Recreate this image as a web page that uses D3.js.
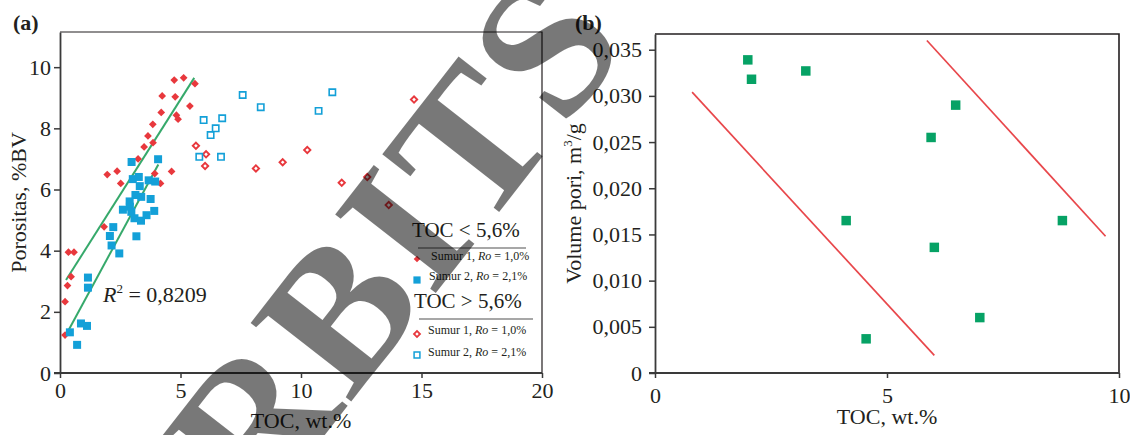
<!DOCTYPE html>
<html>
<head>
<meta charset="utf-8">
<script src="https://cdn.jsdelivr.net/npm/d3@7"></script>
<style>
  html, body { margin: 0; padding: 0; background: #fff; }
  svg { display: block; }
  text { font-family: "Liberation Serif", "Times New Roman", serif; fill: #231f20; }
</style>
</head>
<body>
<svg id="chart" width="1130" height="435"></svg>
<script>
// ---- Panel (a): porosity vs TOC ----
// Sumur 1 (Ro = 1,0%), TOC < 5,6%  [TOC wt.%, porosity %BV]
const sumur1Low = [
  [0.21, 1.24], [0.21, 2.33], [0.31, 2.86], [0.46, 3.15], [0.35, 3.95], [0.58, 3.95],
  [1.83, 4.78], [1.96, 6.49], [2.37, 6.60], [2.52, 6.20], [3.24, 7.00], [3.49, 7.39],
  [3.65, 7.75], [3.85, 8.13], [3.86, 7.53], [3.93, 6.52], [4.17, 6.20], [4.20, 8.52],
  [4.24, 9.06], [4.63, 6.59], [4.74, 9.58], [4.78, 9.03], [4.83, 8.43], [4.90, 8.30],
  [5.13, 9.65], [5.39, 8.73], [5.60, 9.46]
];
// Sumur 2 (Ro = 2,1%), TOC < 5,6%
const sumur2Low = [
  [0.41, 1.33], [0.71, 0.92], [0.87, 1.62], [1.12, 1.54], [1.16, 3.12], [1.16, 2.79],
  [2.07, 4.48], [2.14, 4.17], [2.21, 4.77], [2.46, 3.91], [2.61, 5.34], [2.89, 5.61],
  [2.90, 5.44], [2.96, 5.27], [3.09, 5.06], [3.17, 4.47], [3.36, 4.98], [3.59, 5.16],
  [3.76, 5.69], [3.91, 5.30], [3.13, 5.82], [3.37, 5.76], [2.97, 6.90], [3.02, 6.34],
  [3.27, 6.41], [3.31, 6.11], [3.68, 6.30], [3.95, 6.26], [4.07, 6.99]
];
// Sumur 1, TOC > 5,6%
const sumur1High = [
  [5.64, 7.43], [6.06, 7.15], [6.02, 6.77], [8.13, 6.69], [9.24, 6.89],
  [10.26, 7.29], [11.69, 6.22], [12.75, 6.41], [13.64, 5.49], [14.69, 8.94]
];
// Sumur 2, TOC > 5,6%
const sumur2High = [
  [5.96, 8.27], [5.78, 7.07], [6.25, 7.78], [6.46, 8.00], [6.73, 8.33],
  [6.68, 7.07], [7.58, 9.09], [8.33, 8.69], [11.30, 9.18], [10.73, 8.57]
];
// Linear trend lines for the TOC < 5,6% groups (end points)
const trendSumur1 = [[0.25, 3.04], [5.57, 9.65]];
const trendSumur2 = [[0.32, 1.35], [4.08, 6.82]];
const r2Label = "0,8209";
const ticksA_x = [0, 5, 10, 15, 20];
const ticksA_y = [0, 2, 4, 6, 8, 10];

// ---- Panel (b): pore volume vs TOC ----
const poreToc = [2.00, 2.08, 3.25, 4.12, 6.48, 5.95, 8.78, 6.02, 7.00, 4.55];
const poreVolume = [0.0339, 0.0318, 0.0327, 0.0165, 0.0290, 0.0255, 0.0165, 0.0136, 0.0060, 0.0037];
const boundLower = [[0.80, 0.0304], [6.02, 0.0019]];
const boundUpper = [[5.86, 0.0360], [9.71, 0.0148]];
const ticksB_x = [0, 5, 10];
const ticksB_y = [0, 0.005, 0.010, 0.015, 0.020, 0.025, 0.030, 0.035];

const watermarkText = "RBITS";

const svg = d3.select("#chart");
const FS = 22;
const red = "#e8383d", blue = "#13a0d8", green = "#36a96b", poreGreen = "#06a265", lineRed = "#e8474b";

// ============ Panel (a) ============
const xA = d3.scaleLinear().domain([0, 20]).range([60, 542]);
const yA = d3.scaleLinear().domain([0, 11.15]).range([373, 32]);
const gA = svg.append("g");

// frame (top & right)
gA.append("path")
  .attr("d", `M${xA(0)},${yA(11.15)}H${xA(20)}V${yA(0)}`)
  .attr("fill", "none").attr("stroke", "#231f20").attr("stroke-width", 1.2);

const axAx = gA.append("g").attr("transform", `translate(0,${yA(0)})`)
  .call(d3.axisBottom(xA).tickValues(ticksA_x).tickFormat(d3.format("d")).tickSize(5).tickSizeOuter(0).tickPadding(4));
const axAy = gA.append("g").attr("transform", `translate(${xA(0)},0)`)
  .call(d3.axisLeft(yA).tickValues(ticksA_y).tickFormat(d3.format("d")).tickSize(6).tickSizeOuter(0).tickPadding(3));
[axAx, axAy].forEach(a => {
  a.select(".domain").attr("stroke", "#3a3a3a").attr("stroke-width", 1.8);
  a.selectAll(".tick line").attr("stroke", "#3a3a3a").attr("stroke-width", 1.5);
  a.selectAll(".tick text").attr("font-size", FS).attr("font-family", "Liberation Serif").attr("fill", "#231f20");
});
// extend the x axis line slightly past the y axis
axAx.select(".domain").attr("d", `M${xA(0) - 6},0H${xA(20)}`);

// trend lines
const lineA = d3.line().x(d => xA(d[0])).y(d => yA(d[1]));
[trendSumur1, trendSumur2].forEach(t => {
  gA.append("path").attr("d", lineA(t)).attr("fill", "none").attr("stroke", green).attr("stroke-width", 2);
});

const sq = d3.symbol().type(d3.symbolSquare);
// filled red diamonds
gA.selectAll(".s1l").data(sumur1Low).join("path")
  .attr("d", sq.size(30)())
  .attr("transform", d => `translate(${xA(d[0])},${yA(d[1])}) rotate(45)`)
  .attr("fill", red);
// filled blue squares
gA.selectAll(".s2l").data(sumur2Low).join("path")
  .attr("d", sq.size(64)())
  .attr("transform", d => `translate(${xA(d[0])},${yA(d[1])})`)
  .attr("fill", blue);
// open red diamonds
gA.selectAll(".s1h").data(sumur1High).join("path")
  .attr("d", sq.size(20)())
  .attr("transform", d => `translate(${xA(d[0])},${yA(d[1])}) rotate(45)`)
  .attr("fill", "#fff").attr("stroke", red).attr("stroke-width", 1.9);
// open blue squares
gA.selectAll(".s2h").data(sumur2High).join("path")
  .attr("d", sq.size(40)())
  .attr("transform", d => `translate(${xA(d[0])},${yA(d[1])})`)
  .attr("fill", "#fff").attr("stroke", blue).attr("stroke-width", 1.6);

// R² annotation
const r2 = gA.append("text").attr("x", 103).attr("y", 302).attr("font-size", FS);
r2.append("tspan").attr("font-style", "italic").text("R");
r2.append("tspan").attr("font-size", 13).attr("dy", -9).text("2");
r2.append("tspan").attr("dy", 9).text(" = " + r2Label);

// legend
const legA = gA.append("g");
function legendTitle(y, txt, x, lx1, lx2) {
  legA.append("text").attr("x", x).attr("y", y).attr("font-size", 21).text(txt);
  legA.append("line").attr("x1", lx1).attr("x2", lx2).attr("y1", y + 11).attr("y2", y + 11)
    .attr("stroke", "#8a8a8a").attr("stroke-width", 1.6);
}
function legendRow(y, x, label) {
  const t = legA.append("text").attr("x", x).attr("y", y).attr("font-size", 12);
  t.append("tspan").text(label + ", ");
  t.append("tspan").attr("font-style", "italic").text("Ro");
  t.append("tspan").text(label === "Sumur 1" ? " = 1,0%" : " = 2,1%");
}
legendTitle(237, "TOC < 5,6%", 412, 418, 526);
legendRow(260, 431, "Sumur 1");
legendRow(280, 429, "Sumur 2");
legendTitle(308, "TOC > 5,6%", 414, 419, 533);
legendRow(334, 428, "Sumur 1");
legendRow(356, 428, "Sumur 2");
legA.append("path").attr("d", sq.size(22)()).attr("transform", "translate(417,259) rotate(45)").attr("fill", red);
legA.append("path").attr("d", sq.size(52)()).attr("transform", "translate(417,280)").attr("fill", blue);
legA.append("path").attr("d", sq.size(18)()).attr("transform", "translate(417,334) rotate(45)")
  .attr("fill", "#fff").attr("stroke", red).attr("stroke-width", 1.8);
legA.append("path").attr("d", sq.size(34)()).attr("transform", "translate(417,355)")
  .attr("fill", "#fff").attr("stroke", blue).attr("stroke-width", 1.5);

// axis titles
gA.append("text").attr("x", (xA(0) + xA(20)) / 2).attr("y", 428).attr("text-anchor", "middle")
  .attr("font-size", FS).text("TOC, wt.%");
gA.append("text").attr("transform", `translate(26,${(yA(0) + yA(11.15)) / 2}) rotate(-90)`)
  .attr("text-anchor", "middle").attr("font-size", FS).text("Porositas, %BV");
gA.append("text").attr("x", 13).attr("y", 30).attr("font-size", 22).attr("font-weight", "bold").text("(a)");

// ============ Panel (b) ============
const xB = d3.scaleLinear().domain([0, 10]).range([655, 1119]);
const yB = d3.scaleLinear().domain([0, 0.0367]).range([373, 34]);
const gB = svg.append("g");
gB.append("path")
  .attr("d", `M${xB(0)},${yB(0.0367)}H${xB(10)}V${yB(0)}`)
  .attr("fill", "none").attr("stroke", "#231f20").attr("stroke-width", 1.6);

const comma = v => v === 0 ? "0" : d3.format(".3f")(v).replace(".", ",");
const axBx = gB.append("g").attr("transform", `translate(0,${yB(0)})`)
  .call(d3.axisBottom(xB).tickValues(ticksB_x).tickFormat(d3.format("d")).tickSize(5).tickSizeOuter(0).tickPadding(9));
const axBy = gB.append("g").attr("transform", `translate(${xB(0)},0)`)
  .call(d3.axisLeft(yB).tickValues(ticksB_y).tickFormat(comma).tickSize(6).tickSizeOuter(0).tickPadding(7));
[axBx, axBy].forEach(a => {
  a.select(".domain").attr("stroke", "#3a3a3a").attr("stroke-width", 1.8);
  a.selectAll(".tick line").attr("stroke", "#3a3a3a").attr("stroke-width", 1.5);
  a.selectAll(".tick text").attr("font-size", FS).attr("font-family", "Liberation Serif").attr("fill", "#231f20");
});
axBx.select(".domain").attr("d", `M${xB(0) - 6},0H${xB(10)}`);

const lineB = d3.line().x(d => xB(d[0])).y(d => yB(d[1]));
[boundLower, boundUpper].forEach(t => {
  gB.append("path").attr("d", lineB(t)).attr("fill", "none").attr("stroke", lineRed).attr("stroke-width", 1.7);
});
gB.selectAll(".pv").data(poreToc).join("path")
  .attr("d", sq.size(90)())
  .attr("transform", (d, i) => `translate(${xB(d)},${yB(poreVolume[i])})`)
  .attr("fill", poreGreen);

gB.append("text").attr("x", (xB(0) + xB(10)) / 2).attr("y", 424).attr("text-anchor", "middle")
  .attr("font-size", FS).text("TOC, wt.%");
const yl = gB.append("text").attr("transform", `translate(581,${(yB(0) + yB(0.0367)) / 2}) rotate(-90)`)
  .attr("text-anchor", "middle").attr("font-size", FS);
yl.append("tspan").text("Volume pori, m");
yl.append("tspan").attr("font-size", 13).attr("dy", -9).text("3");
yl.append("tspan").attr("dy", 9).text("/g");
gB.append("text").attr("x", 575).attr("y", 30).attr("font-size", 22).attr("font-weight", "bold").text("(b)");

// ============ Overlay lettering ============
svg.append("text")
  .attr("transform", "translate(260,518) rotate(-52)")
  .attr("font-size", 195).attr("font-weight", "bold")
  .attr("letter-spacing", 4)
  .style("fill", "#000").style("fill-opacity", 0.53)
  .text(watermarkText);
</script>
</body>
</html>
